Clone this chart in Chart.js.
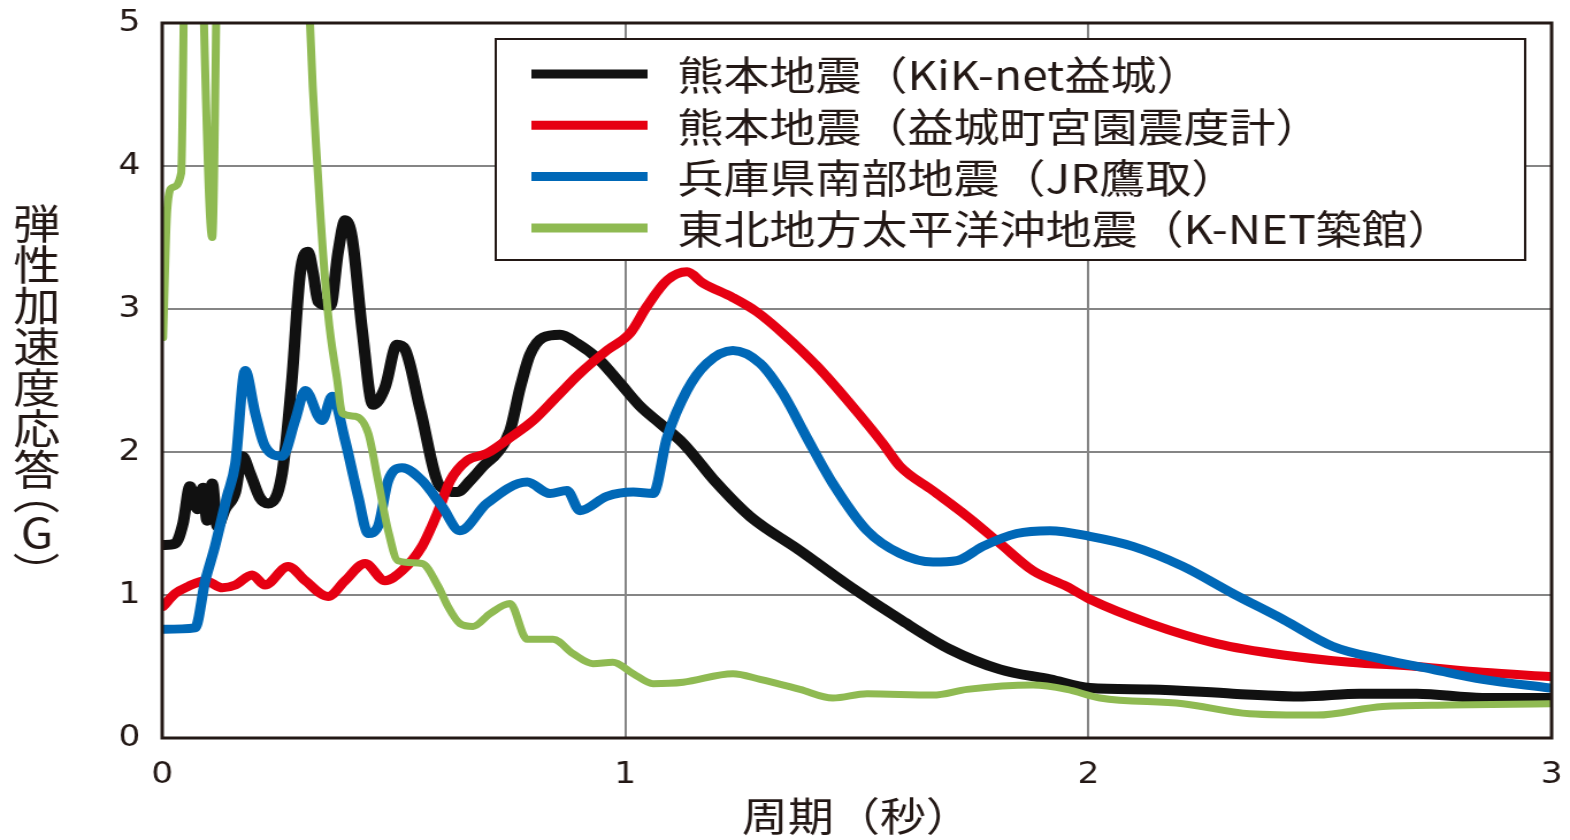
<!DOCTYPE html>
<html>
<head>
<meta charset="utf-8">
<script src="https://cdn.jsdelivr.net/npm/chart.js@4.4.1/dist/chart.umd.min.js"></script>
<style>
html, body { margin: 0; padding: 0; background: #fff; overflow: hidden; }
</style>
</head>
<body>
<canvas id="chart" width="1365" height="840" style="display:block;width:1570px;height:840px"></canvas>
<script>
// 応答スペクトル (h=5%) 読み取り値
const seriesNames = [
    '熊本地震（KiK-net益城）',
    '熊本地震（益城町宮園震度計）',
    '兵庫県南部地震（JR鷹取）',
    '東北地方太平洋沖地震（K-NET築館）'
]
const xTitle = '周期（秒）'
const yTitle = '弾性加速度応答（G）'
const xTicks = [0, 1, 2, 3]
const yTicks = [0, 1, 2, 3, 4, 5]

const periodKik = [0.002,0.028,0.045,0.060,0.076,0.088,0.097,0.108,0.119,0.136,0.158,0.173,0.190,0.211,0.229,0.259,0.280,0.298,0.315,0.326,0.337,0.363,0.380,0.395,0.410,0.432,0.455,0.481,0.507,0.524,0.557,0.600,0.637,0.665,0.693,0.725,0.751,0.773,0.794,0.822,0.859,0.896,0.945,0.989,1.032,1.075,1.125,1.198,1.269,1.377,1.485,1.593,1.701,1.809,1.917,2.003,2.133,2.312,2.463,2.586,2.709,2.851,2.996]
const accelKik = [1.35,1.36,1.50,1.76,1.60,1.75,1.52,1.78,1.48,1.60,1.72,1.97,1.85,1.68,1.64,1.85,2.50,3.25,3.40,3.25,3.05,3.02,3.40,3.62,3.50,2.85,2.33,2.45,2.75,2.72,2.30,1.76,1.72,1.80,1.90,2.00,2.15,2.45,2.68,2.80,2.82,2.76,2.64,2.48,2.32,2.20,2.06,1.78,1.55,1.31,1.06,0.83,0.62,0.48,0.41,0.35,0.34,0.31,0.29,0.31,0.31,0.28,0.28]

const periodMashiki = [0.002,0.028,0.056,0.093,0.130,0.158,0.194,0.222,0.272,0.309,0.358,0.395,0.438,0.481,0.518,0.561,0.594,0.622,0.658,0.701,0.751,0.801,0.853,0.902,0.960,1.010,1.047,1.090,1.133,1.168,1.232,1.284,1.340,1.414,1.485,1.556,1.593,1.664,1.738,1.809,1.880,1.953,2.003,2.133,2.277,2.420,2.564,2.709,2.851,2.996]
const accelMashiki = [0.92,1.01,1.06,1.10,1.05,1.07,1.14,1.07,1.20,1.10,0.99,1.10,1.22,1.10,1.17,1.34,1.57,1.80,1.94,1.99,2.10,2.22,2.39,2.55,2.71,2.83,3.02,3.20,3.26,3.18,3.08,2.98,2.83,2.60,2.34,2.06,1.90,1.73,1.55,1.36,1.17,1.06,0.97,0.80,0.66,0.58,0.53,0.50,0.46,0.43]

const periodTakatori = [0.002,0.071,0.093,0.114,0.140,0.158,0.179,0.201,0.222,0.259,0.287,0.309,0.345,0.367,0.395,0.423,0.445,0.466,0.488,0.518,0.561,0.604,0.643,0.701,0.788,0.837,0.874,0.902,0.960,1.017,1.060,1.090,1.133,1.176,1.232,1.291,1.340,1.392,1.448,1.522,1.593,1.664,1.716,1.772,1.845,1.917,2.003,2.096,2.204,2.312,2.420,2.528,2.635,2.743,2.851,2.996]
const accelTakatori = [0.76,0.77,1.10,1.34,1.69,1.92,2.57,2.27,2.04,1.97,2.22,2.43,2.22,2.39,2.08,1.69,1.43,1.48,1.80,1.89,1.80,1.62,1.45,1.64,1.79,1.71,1.73,1.59,1.69,1.72,1.71,2.10,2.43,2.62,2.71,2.62,2.41,2.10,1.78,1.45,1.29,1.23,1.24,1.34,1.43,1.45,1.41,1.34,1.20,1.01,0.83,0.64,0.55,0.48,0.41,0.35]

// 5Gを超える部分は枠外 (推定値)
const periodTsukidate = [0.002,0.011,0.022,0.041,0.050,0.065,0.082,0.108,0.121,0.136,0.298,0.317,0.337,0.358,0.378,0.389,0.417,0.445,0.466,0.488,0.509,0.561,0.596,0.617,0.643,0.671,0.708,0.751,0.788,0.844,0.887,0.930,0.973,1.017,1.060,1.125,1.232,1.291,1.377,1.448,1.522,1.664,1.738,1.880,1.953,2.025,2.204,2.348,2.493,2.635,2.780,2.996]
const accelTsukidate = [2.80,3.70,3.85,3.95,6.00,8.00,6.00,3.50,6.00,8.00,8.00,5.20,3.90,2.97,2.50,2.27,2.25,2.13,1.80,1.45,1.24,1.22,1.06,0.92,0.80,0.78,0.87,0.94,0.69,0.69,0.59,0.52,0.53,0.45,0.38,0.39,0.45,0.41,0.34,0.28,0.31,0.30,0.34,0.37,0.34,0.28,0.24,0.17,0.16,0.22,0.23,0.24]

const inkColor = '#231815'

function toPoints(xs, ys) {
    var n = Math.min(xs.length, ys.length)
    var pts = []
    for (var i = 0; i < n; i++) pts.push({ x: xs[i], y: ys[i] })
    return pts
}

// 枠 (四辺)
const frame = {
    id: 'frame',
    afterDatasetsDraw(chart) {
        const { ctx, chartArea: a } = chart
        ctx.save()
        ctx.strokeStyle = inkColor
        ctx.lineWidth = 3
        ctx.strokeRect(a.left, a.top, a.right - a.left, a.bottom - a.top)
        ctx.restore()
    }
}

// 凡例 (枠付き)
const boxedLegend = {
    id: 'boxedLegend',
    afterDraw(chart) {
        const { ctx, chartArea: a } = chart
        const left = a.left + 290, top = a.top + 16
        const right = a.right - 23, bottom = a.top + 237
        ctx.save()
        ctx.fillStyle = '#fff'
        ctx.fillRect(left, top, right - left, bottom - top)
        ctx.strokeStyle = inkColor
        ctx.lineWidth = 2
        ctx.strokeRect(left, top, right - left, bottom - top)
        ctx.font = '40px "Noto Sans CJK JP"'
        ctx.textBaseline = 'middle'
        ctx.textAlign = 'left'
        chart.data.datasets.forEach((ds, i) => {
            const y = top + 35 + i * 51.3
            ctx.strokeStyle = ds.borderColor
            ctx.lineWidth = 9
            ctx.beginPath()
            ctx.moveTo(left + 31, y)
            ctx.lineTo(left + 132, y)
            ctx.stroke()
            ctx.fillStyle = inkColor
            ctx.fillText(ds.label, left + 158, y + 1)
        })
        ctx.restore()
    }
}

// 縦書きの軸タイトル
const verticalTitle = {
    id: 'verticalTitle',
    afterDraw(chart) {
        const ctx = chart.ctx
        ctx.save()
        ctx.font = '41px "Noto Sans CJK JP"'
        ctx.fillStyle = inkColor
        ctx.textAlign = 'center'
        ctx.textBaseline = 'middle'
        const cx = 32
        let y = 223
        for (const ch of yTitle) {
            if (ch === '（' || ch === '）') {
                const cy = ch === '（' ? y - 16 : y + 6
                ctx.save()
                ctx.translate(cx, cy)
                ctx.rotate(Math.PI / 2)
                ctx.fillText(ch, 0, 0)
                ctx.restore()
                y += ch === '（' ? 30 : 0
            } else if (ch === 'G') {
                ctx.fillText(ch, cx, y - 8)
                y += 26
            } else {
                ctx.fillText(ch, cx, y)
                y += 41
            }
        }
        ctx.restore()
    }
}

const tickFont = { family: 'DejaVu Sans', size: 30 }

new Chart(document.getElementById('chart'), {
    type: 'line',
    data: {
        datasets: [{
            label: seriesNames[0],
            data: toPoints(periodKik, accelKik),
            borderColor: '#111111',
            borderWidth: 10,
            order: 4
        }, {
            label: seriesNames[1],
            data: toPoints(periodMashiki, accelMashiki),
            borderColor: '#e60012',
            borderWidth: 9,
            order: 3
        }, {
            label: seriesNames[2],
            data: toPoints(periodTakatori, accelTakatori),
            borderColor: '#0068b7',
            borderWidth: 9,
            order: 2
        }, {
            label: seriesNames[3],
            data: toPoints(periodTsukidate, accelTsukidate),
            borderColor: '#8fba52',
            borderWidth: 7,
            order: 1
        }]
    },
    options: {
        responsive: false,
        devicePixelRatio: 1,
        animation: false,
        events: [],
        layout: { padding: { left: 0, right: 16, top: 23, bottom: 0 } },
        datasets: { line: { clip: 0, pointRadius: 0, cubicInterpolationMode: 'monotone', borderJoinStyle: 'round', borderCapStyle: 'round' } },
        plugins: { legend: { display: false }, tooltip: { enabled: false } },
        scales: {
            x: {
                type: 'linear',
                min: xTicks[0],
                max: xTicks[xTicks.length - 1],
                afterBuildTicks: s => { s.ticks = xTicks.map(v => ({ value: v })) },
                afterFit: s => { s.height = 102; s.paddingLeft = 0; s.paddingRight = 0 },
                ticks: { font: tickFont, color: inkColor, padding: 19 },
                grid: { color: '#858585', lineWidth: 2, drawTicks: false },
                border: { display: false },
                title: {
                    display: true,
                    text: xTitle,
                    color: inkColor,
                    font: { family: 'Noto Sans CJK JP', size: 40, lineHeight: 1.2 },
                    padding: { top: 0, bottom: 0 }
                }
            },
            y: {
                min: yTicks[0],
                max: yTicks[yTicks.length - 1],
                afterBuildTicks: s => { s.ticks = yTicks.map(v => ({ value: v })) },
                afterFit: s => { s.width = 141; s.paddingTop = 0; s.paddingBottom = 0 },
                ticks: { font: tickFont, color: inkColor, padding: 19 },
                grid: { color: '#858585', lineWidth: 2, drawTicks: false },
                border: { display: false }
            }
        }
    },
    plugins: [frame, boxedLegend, verticalTitle]
});
</script>
</body>
</html>
